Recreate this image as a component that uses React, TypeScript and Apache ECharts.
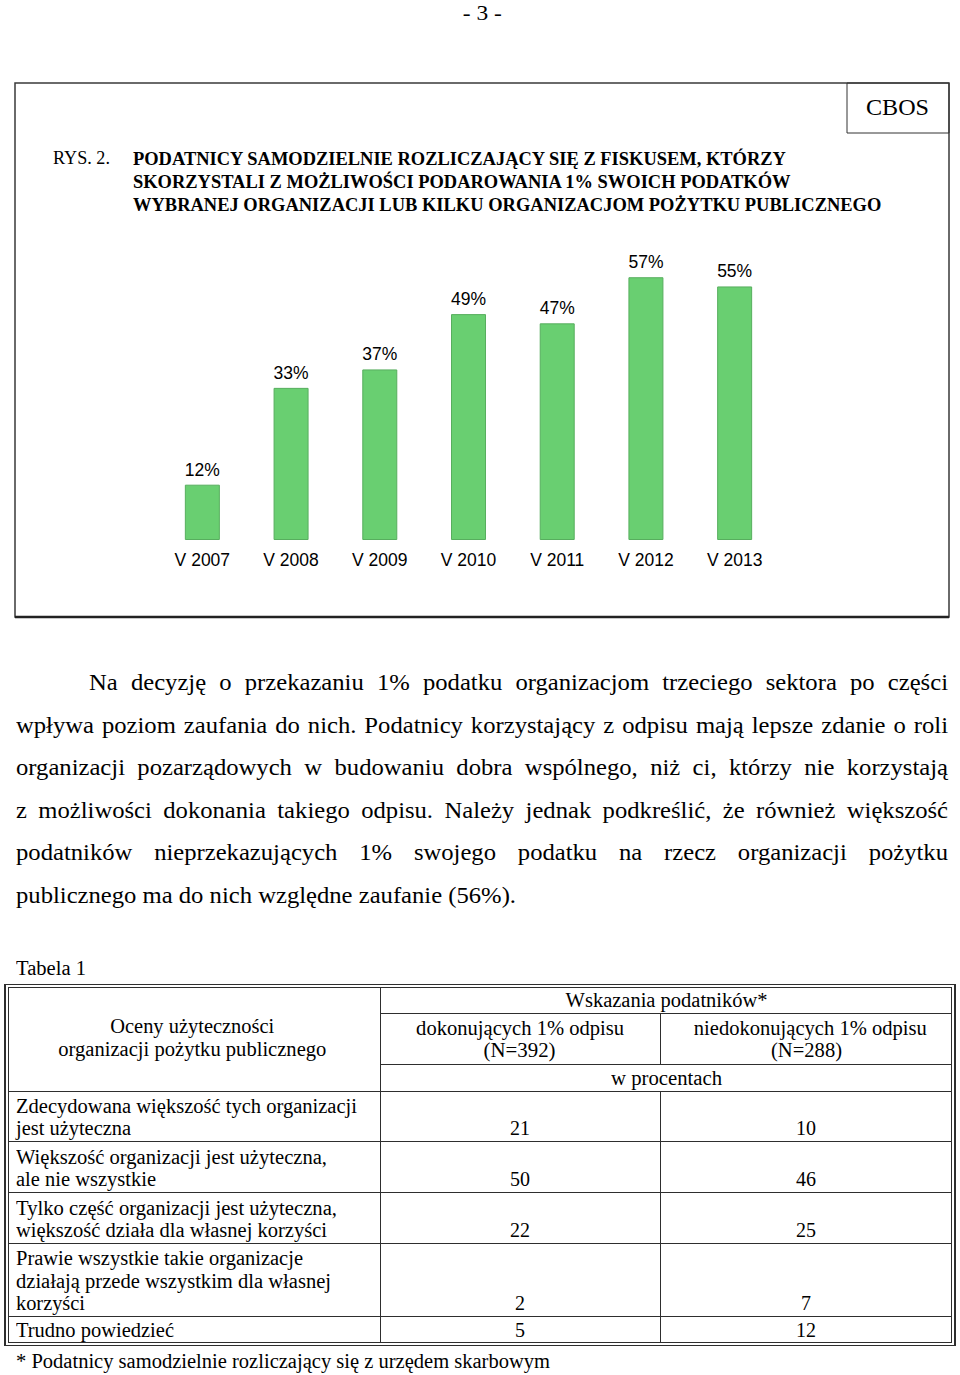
import React, { useEffect, useRef } from "react";
import * as echarts from "echarts";

// ---------- data ----------
const years = ["V 2007", "V 2008", "V 2009", "V 2010", "V 2011", "V 2012", "V 2013"];
const shares = [12, 33, 37, 49, 47, 57, 55];

const titleLines = [
  "PODATNICY SAMODZIELNIE ROZLICZAJĄCY SIĘ Z FISKUSEM, KTÓRZY",
  "SKORZYSTALI Z MOŻLIWOŚCI PODAROWANIA 1% SWOICH PODATKÓW",
  "WYBRANEJ ORGANIZACJI LUB KILKU ORGANIZACJOM POŻYTKU PUBLICZNEGO",
];

const paragraphLines = [
  "Na decyzję o przekazaniu 1% podatku organizacjom trzeciego sektora po części",
  "wpływa poziom zaufania do nich. Podatnicy korzystający z odpisu mają lepsze zdanie o roli",
  "organizacji pozarządowych w budowaniu dobra wspólnego, niż ci, którzy nie korzystają",
  "z możliwości dokonania takiego odpisu. Należy jednak podkreślić, że również większość",
  "podatników nieprzekazujących 1% swojego podatku na rzecz organizacji pożytku",
  "publicznego ma do nich względne zaufanie (56%).",
];

const rowLabels = [
  ["Zdecydowana większość tych organizacji", "jest użyteczna"],
  ["Większość organizacji jest użyteczna,", "ale nie wszystkie"],
  ["Tylko część organizacji jest użyteczna,", "większość działa dla własnej korzyści"],
  ["Prawie wszystkie takie organizacje", "działają przede wszystkim dla własnej", "korzyści"],
  ["Trudno powiedzieć"],
];
const donorValues = [21, 50, 22, 2, 5];
const nonDonorValues = [10, 46, 25, 7, 12];

// ---------- helpers ----------
const SERIF = '"Liberation Serif", "Times New Roman", serif';
const SANS = '"Liberation Sans", Arial, sans-serif';

let mctx: CanvasRenderingContext2D | null = null;
function measure(text: string, font: string): number {
  if (!mctx) mctx = document.createElement("canvas").getContext("2d");
  mctx!.font = font;
  return mctx!.measureText(text).width;
}

function T(props: {
  text: string; x: number; y: number; w?: number; size: number; bold?: boolean;
  align?: "left" | "center";
}) {
  const { text, x, y, w, size, bold, align = "left" } = props;
  const font = `${bold ? "bold " : ""}${size}px ${SERIF}`;
  const nw = measure(text, font);
  const s = w ? w / nw : 1;
  const L = Math.round(size * 1.3);
  const left = align === "center" ? x - nw / 2 : x;
  return (
    <div
      style={{
        position: "absolute",
        left,
        top: y - L / 2,
        height: L,
        lineHeight: `${L}px`,
        fontFamily: SERIF,
        fontSize: size,
        fontWeight: bold ? "bold" : "normal",
        whiteSpace: "nowrap",
        color: "#000",
        transform: `scaleX(${s})`,
        transformOrigin: align === "center" ? `${nw / 2}px 50%` : "0 50%",
      }}
    >
      {text}
    </div>
  );
}

function HL({ x1, x2, y, t = 1 }: { x1: number; x2: number; y: number; t?: number }) {
  return <div style={{ position: "absolute", left: x1, top: y - t / 2, width: x2 - x1, height: t, background: "#2e2e2e" }} />;
}
function VL({ x, y1, y2, t = 1 }: { x: number; y1: number; y2: number; t?: number }) {
  return <div style={{ position: "absolute", left: x - t / 2, top: y1, width: t, height: y2 - y1, background: "#2e2e2e" }} />;
}

function Chart() {
  const ref = useRef<HTMLDivElement>(null);
  useEffect(() => {
    if (!ref.current) return;
    const chart = echarts.init(ref.current, undefined, { renderer: "svg" });
    const titleFont = `bold 19px ${SERIF}`;
    const titleWidths = [655, 659, 749];
    const titleY = [158, 181, 204];
    const rysFont = `18px ${SERIF}`;
    const cbosFont = `24px ${SERIF}`;
    const graphic: any[] = [
      { type: "rect", shape: { x: 15, y: 83, width: 934, height: 534 }, style: { fill: "none", stroke: "#3a3a3a", lineWidth: 1.5 } },
      { type: "line", shape: { x1: 15, y1: 617, x2: 949, y2: 617 }, style: { stroke: "#222", lineWidth: 2.5 } },
      { type: "rect", shape: { x: 847, y: 83, width: 102, height: 50 }, style: { fill: "none", stroke: "#333", lineWidth: 1 } },
      {
        type: "text", x: 897.5, y: 107, scaleX: 63 / measure("CBOS", cbosFont), originX: 0,
        style: { text: "CBOS", font: cbosFont, fill: "#000", textAlign: "center", textVerticalAlign: "middle" },
      },
      {
        type: "text", x: 53, y: 158, scaleX: 57 / measure("RYS. 2.", rysFont), originX: 0,
        style: { text: "RYS. 2.", font: rysFont, fill: "#000", textAlign: "left", textVerticalAlign: "middle" },
      },
      ...titleLines.map((t, i) => ({
        type: "text", x: 133, y: titleY[i], scaleX: titleWidths[i] / measure(t, titleFont), originX: 0,
        style: { text: t, font: titleFont, fill: "#000", textAlign: "left", textVerticalAlign: "middle" },
      })),
    ];
    chart.setOption({
      animation: false,
      grid: { left: 158, right: 181, top: 263.4, bottom: 90, containLabel: false },
      xAxis: {
        type: "category",
        data: years,
        axisLine: { show: false },
        axisTick: { show: false },
        axisLabel: { interval: 0, fontSize: 17.5, color: "#000", fontFamily: SANS, margin: 11 },
      },
      yAxis: { type: "value", min: 0, max: 60, show: false, splitLine: { show: false } },
      series: [
        {
          type: "bar",
          data: shares,
          barWidth: 35,
          itemStyle: { color: "#69CF71", borderColor: "#57AE5E", borderWidth: 1 },
          label: { show: true, position: "top", distance: 6, formatter: "{c}%", fontSize: 17.5, color: "#000", fontFamily: SANS },
        },
      ],
      graphic,
    });
    return () => chart.dispose();
  }, []);
  return <div ref={ref} style={{ position: "absolute", left: 0, top: 0, width: 960, height: 630 }} />;
}

function Paragraph() {
  const size = 23;
  const font = `${size}px ${SERIF}`;
  const last = paragraphLines[paragraphLines.length - 1];
  const s = 500 / measure(last, font);
  const ys = [683, 725.5, 768, 810.5, 853, 895.5];
  const L = 30;
  return (
    <>
      {paragraphLines.map((line, i) => {
        const x0 = i === 0 ? 89 : 16;
        const isLast = i === paragraphLines.length - 1;
        const W = 948 - x0;
        return (
          <div
            key={i}
            style={{
              position: "absolute",
              left: x0,
              top: ys[i] - L / 2,
              height: L,
              lineHeight: `${L}px`,
              width: isLast ? undefined : W / s,
              whiteSpace: "nowrap",
              fontFamily: SERIF,
              fontSize: size,
              color: "#000",
              textAlign: isLast ? "left" : "justify",
              textAlignLast: isLast ? "left" : "justify",
              transform: `scaleX(${s})`,
              transformOrigin: "0 50%",
            } as any}
          >
            {line}
          </div>
        );
      })}
    </>
  );
}

function Table() {
  const size = 20;
  const rowTop = [1091, 1141, 1192, 1243, 1316];
  const rowBottom = [1141, 1192, 1243, 1316, 1343];
  const labelWidths = [[341, 115], [311, 140], [321, 311], [287, 315, 69], [158]];
  const lineGap = 22.5;
  const c1 = 520;
  const c2 = 806;
  return (
    <>
      <T text="Tabela 1" x={16} y={968} w={70} size={size} />
      {/* double outer border */}
      <HL x1={5} x2={955} y={984.5} t={1.5} />
      <HL x1={5} x2={955} y={1345.5} t={1.5} />
      <VL x={5} y1={984} y2={1346} t={1.5} />
      <VL x={955} y1={984} y2={1346} t={1.5} />
      <HL x1={8} x2={952} y={987.5} />
      <HL x1={8} x2={952} y={1342.5} />
      <VL x={8.5} y1={987} y2={1343} />
      <VL x={951.5} y1={987} y2={1343} />
      {/* inner grid */}
      <VL x={380} y1={987} y2={1343} />
      <HL x1={380} x2={952} y={1013} />
      <HL x1={380} x2={952} y={1064} />
      <VL x={660} y1={1013} y2={1064} />
      <VL x={660} y1={1091} y2={1343} />
      {rowTop.map((y, i) => (
        <HL key={i} x1={8} x2={952} y={y} />
      ))}
      {/* header texts */}
      <T text="Oceny użyteczności" x={192} y={1026} w={164} size={size} align="center" />
      <T text="organizacji pożytku publicznego" x={192} y={1049} w={268} size={size} align="center" />
      <T text="Wskazania podatników*" x={667} y={1000} w={202} size={size} align="center" />
      <T text="dokonujących 1% odpisu" x={c1} y={1028} w={208} size={size} align="center" />
      <T text="(N=392)" x={c1} y={1050} w={72} size={size} align="center" />
      <T text="niedokonujących 1% odpisu" x={810} y={1028} w={233} size={size} align="center" />
      <T text="(N=288)" x={807} y={1050} w={71} size={size} align="center" />
      <T text="w procentach" x={667} y={1078} w={111} size={size} align="center" />
      {/* rows */}
      {rowLabels.map((lines, r) => {
        const lastY = rowBottom[r] - 13;
        const firstY = lastY - (lines.length - 1) * lineGap;
        return (
          <React.Fragment key={r}>
            {lines.map((ln, j) => (
              <T key={j} text={ln} x={16} y={firstY + j * lineGap} w={labelWidths[r][j]} size={size} />
            ))}
            <T text={String(donorValues[r])} x={c1} y={lastY} size={size} align="center" />
            <T text={String(nonDonorValues[r])} x={c2} y={lastY} size={size} align="center" />
          </React.Fragment>
        );
      })}
      <T text="* Podatnicy samodzielnie rozliczający się z urzędem skarbowym" x={16} y={1361} w={534} size={size} />
    </>
  );
}

export default function App() {
  return (
    <div style={{ position: "absolute", left: 0, top: 0, width: 960, height: 1375, background: "#fff", overflow: "hidden" }}>
      <T text="- 3 -" x={482} y={12} w={39} size={22} align="center" />
      <Chart />
      <Paragraph />
      <Table />
    </div>
  );
}
